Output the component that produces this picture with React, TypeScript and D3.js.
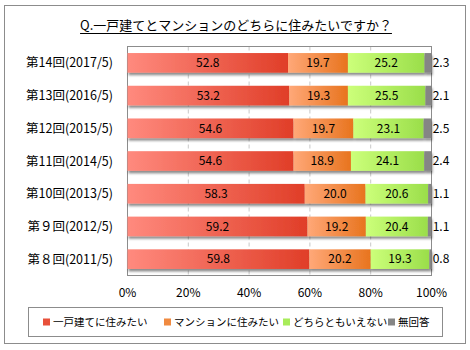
import React, { useEffect, useRef } from "react";
import * as d3 from "d3";

const categories = [
  "第14回(2017/5)",
  "第13回(2016/5)",
  "第12回(2015/5)",
  "第11回(2014/5)",
  "第10回(2013/5)",
  "第９回(2012/5)",
  "第８回(2011/5)",
];
const seriesNames = ["一戸建てに住みたい", "マンションに住みたい", "どちらともいえない", "無回答"];
const detached = [52.8, 53.2, 54.6, 54.6, 58.3, 59.2, 59.8];
const condo = [19.7, 19.3, 19.7, 18.9, 20.0, 19.2, 20.2];
const neither = [25.2, 25.5, 23.1, 24.1, 20.6, 20.4, 19.3];
const noAnswer = [2.3, 2.1, 2.5, 2.4, 1.1, 1.1, 0.8];
const xTicks = [0, 20, 40, 60, 80, 100];

const FONT = "'Noto Sans CJK JP', 'Noto Sans', sans-serif";

const App = () => {
  const svgRef = useRef<SVGSVGElement>(null);

  useEffect(() => {
    const width = 470;
    const height = 350;
    const svg = d3.select(svgRef.current).attr("width", width).attr("height", height);
    svg.selectAll("*").remove();

    const defs = svg.append("defs");
    const grads = [
      ["g0", "#ff8a7e", "#e03e28"],
      ["g1", "#ffa878", "#e8741e"],
      ["g2", "#ccff7a", "#9ade4a"],
      ["g3", "#858585", "#858585"],
    ];
    grads.forEach(([id, c1, c2]) => {
      const g = defs.append("linearGradient").attr("id", id).attr("x1", "0").attr("x2", "1").attr("y1", "0").attr("y2", "0");
      g.append("stop").attr("offset", "0%").attr("stop-color", c1);
      g.append("stop").attr("offset", "100%").attr("stop-color", c2);
    });
    const f = defs.append("filter").attr("id", "sh").attr("x", "-5%").attr("y", "-20%").attr("width", "110%").attr("height", "160%");
    f.append("feDropShadow").attr("dx", 1).attr("dy", 2.5).attr("stdDeviation", 1.2).attr("flood-color", "#000").attr("flood-opacity", 0.45);

    // outer frame
    svg.append("rect").attr("x", 4.5).attr("y", 5.5).attr("width", 461).attr("height", 338)
      .attr("fill", "#fff").attr("stroke", "#8c8c8c").attr("stroke-width", 1);

    // title
    const title = svg.append("text").attr("x", 236).attr("y", 30).attr("text-anchor", "middle")
      .attr("font-family", FONT).attr("font-size", 13).attr("fill", "#000")
      .text("Q.一戸建てとマンションのどちらに住みたいですか？");
    const tb = (title.node() as SVGTextElement).getBBox();
    svg.append("line").attr("x1", tb.x).attr("x2", tb.x + tb.width).attr("y1", 33.5).attr("y2", 33.5)
      .attr("stroke", "#000").attr("stroke-width", 1);

    const left = 127.5;
    const right = 431.5;
    const top = 46.5;
    const bottom = 275.5;

    const x = d3.scaleLinear().domain([0, 100]).range([left, right]);
    const y = d3.scaleBand().domain(categories).range([top, bottom]).paddingInner(0.4).paddingOuter(0.2);

    // gridlines
    svg.append("g").selectAll("line").data(xTicks.slice(1, -1)).enter().append("line")
      .attr("x1", (d) => x(d)).attr("x2", (d) => x(d)).attr("y1", top).attr("y2", bottom)
      .attr("stroke", "#c8c8c8").attr("stroke-dasharray", "4,3");

    svg.append("rect").attr("x", left).attr("y", top).attr("width", right - left).attr("height", bottom - top)
      .attr("fill", "none").attr("stroke", "#8c8c8c");

    const series = [detached, condo, neither, noAnswer];
    const rows = categories.map((c, i) => {
      let acc = 0;
      return series.map((s, k) => {
        const start = acc;
        acc += s[i];
        return { cat: c, k, start, end: acc, v: s[i] };
      });
    });

    const rowG = svg.append("g").selectAll("g").data(rows).enter().append("g").attr("filter", "url(#sh)");
    rowG.selectAll("rect").data((d) => d).enter().append("rect")
      .attr("x", (d) => x(d.start))
      .attr("y", (d) => y(d.cat)!)
      .attr("width", (d) => Math.max(0, x(Math.min(d.end, 100)) - x(d.start)))
      .attr("height", y.bandwidth())
      .attr("fill", (d) => `url(#g${d.k})`);

    const labels = svg.append("g").attr("font-family", FONT).attr("font-size", 12).attr("fill", "#000");
    rows.flat().forEach((d) => {
      const cx = d.k === 3 ? 441 : (x(d.start) + x(d.end)) / 2;
      labels.append("text").attr("x", cx).attr("y", y(d.cat)! + y.bandwidth() / 2)
        .attr("dy", "0.36em").attr("text-anchor", "middle").text(d.v.toFixed(1));
    });

    // category labels
    svg.append("g").attr("font-family", FONT).attr("font-size", 12.5).attr("fill", "#000")
      .selectAll("text").data(categories).enter().append("text")
      .attr("x", 113).attr("y", (d) => y(d)! + y.bandwidth() / 2).attr("dy", "0.36em")
      .attr("text-anchor", "end").text((d) => d);

    // x axis labels
    svg.append("g").attr("font-family", FONT).attr("font-size", 12).attr("fill", "#000")
      .selectAll("text").data(xTicks).enter().append("text")
      .attr("x", (d) => x(d)).attr("y", 297).attr("text-anchor", "middle").text((d) => `${d}%`);

    // legend
    svg.append("rect").attr("x", 28.5).attr("y", 307.5).attr("width", 414).attr("height", 29)
      .attr("fill", "#fff").attr("stroke", "#8c8c8c");
    const legX = [43, 164, 283, 388];
    const legColors = ["#e8503a", "#f08a40", "#a8ec5a", "#858585"];
    const leg = svg.append("g").selectAll("g").data(seriesNames).enter().append("g")
      .attr("transform", (d, i) => `translate(${legX[i]},322)`);
    leg.append("rect").attr("x", 0).attr("y", -3.5).attr("width", 7).attr("height", 7)
      .attr("fill", (d, i) => legColors[i]);
    leg.append("text").attr("x", 10).attr("dy", "0.36em").attr("font-family", FONT).attr("font-size", 10.5)
      .text((d) => d);
  }, []);

  return <svg ref={svgRef} style={{ position: "absolute", left: 0, top: 0 }}></svg>;
};

export default App;
